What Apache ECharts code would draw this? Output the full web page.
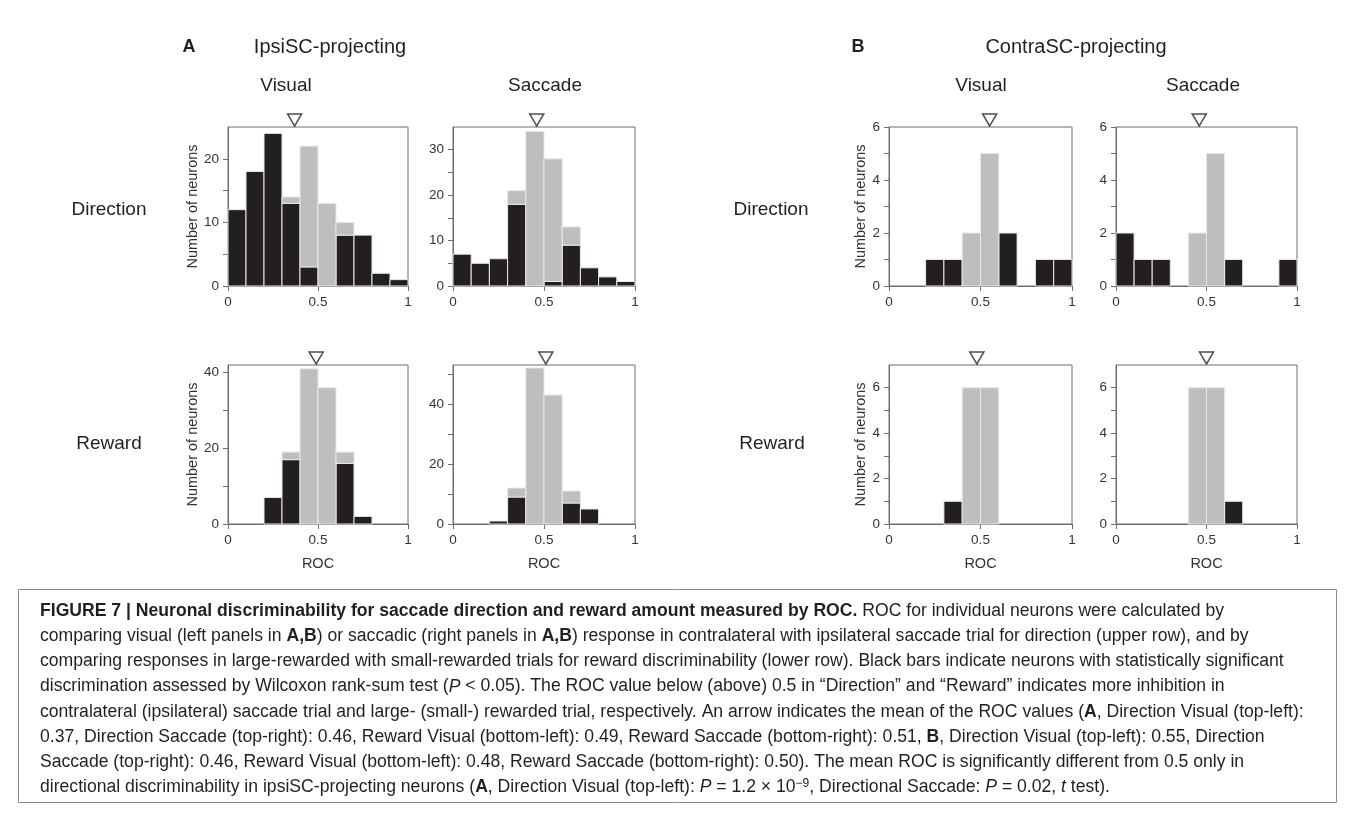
<!DOCTYPE html>
<html>
<head>
<meta charset="utf-8">
<script src="https://cdn.jsdelivr.net/npm/echarts@6/dist/echarts.min.js"></script>
<style>
html,body{margin:0;padding:0;background:#fff;}
#chart{width:1354px;height:819px;}
</style>
</head>
<body>
<div id="chart"></div>
<script>
// ---- DATA ----
const binEdges = [0, 0.1, 0.2, 0.3, 0.4, 0.5, 0.6, 0.7, 0.8, 0.9, 1.0];
const xTickValues = [0, 0.5, 1];

// IpsiSC-projecting (A)
const ipsiDirVisualSig    = [12, 18, 24, 13, 3, 0, 8, 8, 2, 1];
const ipsiDirVisualNon    = [0, 0, 0, 1, 19, 13, 2, 0, 0, 0];
const ipsiDirSaccadeSig   = [7, 5, 6, 18, 0, 1, 9, 4, 2, 1];
const ipsiDirSaccadeNon   = [0, 0, 0, 3, 34, 27, 4, 0, 0, 0];
const ipsiRewVisualSig    = [0, 0, 7, 17, 0, 0, 16, 2, 0, 0];
const ipsiRewVisualNon    = [0, 0, 0, 2, 41, 36, 3, 0, 0, 0];
const ipsiRewSaccadeSig   = [0, 0, 1, 9, 0, 0, 7, 5, 0, 0];
const ipsiRewSaccadeNon   = [0, 0, 0, 3, 52, 43, 4, 0, 0, 0];
// ContraSC-projecting (B)
const contraDirVisualSig  = [0, 0, 1, 1, 0, 0, 2, 0, 1, 1];
const contraDirVisualNon  = [0, 0, 0, 0, 2, 5, 0, 0, 0, 0];
const contraDirSaccadeSig = [2, 1, 1, 0, 0, 0, 1, 0, 0, 1];
const contraDirSaccadeNon = [0, 0, 0, 0, 2, 5, 0, 0, 0, 0];
const contraRewVisualSig  = [0, 0, 0, 1, 0, 0, 0, 0, 0, 0];
const contraRewVisualNon  = [0, 0, 0, 0, 6, 6, 0, 0, 0, 0];
const contraRewSaccadeSig = [0, 0, 0, 0, 0, 0, 1, 0, 0, 0];
const contraRewSaccadeNon = [0, 0, 0, 0, 6, 6, 0, 0, 0, 0];

// mean ROC (arrows): Direction Visual, Direction Saccade, Reward Visual, Reward Saccade
const ipsiMeans   = [0.37, 0.46, 0.49, 0.51];
const contraMeans = [0.55, 0.46, 0.48, 0.50];

// y tick labels
const yLabelsDirA1 = [0, 10, 20];
const yLabelsDirA2 = [0, 10, 20, 30];
const yLabelsRewA  = [0, 20, 40];
const yLabelsB     = [0, 2, 4, 6];

// ---- LAYOUT ----
const colLeft  = [228, 453, 889, 1116];
const colWidth = [180, 182, 183, 181];
const rowTop   = [127, 365];
const plotH    = 159;

const BLACK = '#231f20', GRAY = '#bcbec0', AXIS = '#6d6e71', TXT = '#333';

function range(a, b, s){ const r=[]; for(let v=a; v<=b+1e-9; v+=s) r.push(+v.toFixed(6)); return r; }

const panels = [
  {col:0,row:0,sig:ipsiDirVisualSig,non:ipsiDirVisualNon,mean:ipsiMeans[0],ymax:25,labels:yLabelsDirA1,ticks:range(0,20,5),yname:true},
  {col:1,row:0,sig:ipsiDirSaccadeSig,non:ipsiDirSaccadeNon,mean:ipsiMeans[1],ymax:35,labels:yLabelsDirA2,ticks:range(0,30,5),yname:false},
  {col:0,row:1,sig:ipsiRewVisualSig,non:ipsiRewVisualNon,mean:ipsiMeans[2],ymax:42,labels:yLabelsRewA,ticks:range(0,40,10),yname:true},
  {col:1,row:1,sig:ipsiRewSaccadeSig,non:ipsiRewSaccadeNon,mean:ipsiMeans[3],ymax:53,labels:yLabelsRewA,ticks:range(0,50,10),yname:false},
  {col:2,row:0,sig:contraDirVisualSig,non:contraDirVisualNon,mean:contraMeans[0],ymax:6,labels:yLabelsB,ticks:range(0,6,1),yname:true},
  {col:3,row:0,sig:contraDirSaccadeSig,non:contraDirSaccadeNon,mean:contraMeans[1],ymax:6,labels:yLabelsB,ticks:range(0,6,1),yname:false},
  {col:2,row:1,sig:contraRewVisualSig,non:contraRewVisualNon,mean:contraMeans[2],ymax:7,labels:yLabelsB,ticks:range(0,6,1),yname:true},
  {col:3,row:1,sig:contraRewSaccadeSig,non:contraRewSaccadeNon,mean:contraMeans[3],ymax:7,labels:yLabelsB,ticks:range(0,6,1),yname:false}
];

function rectRender(color){
  return function(params, api){
    const p0 = api.coord([api.value(0), api.value(2)]);
    const p1 = api.coord([api.value(1), api.value(3)]);
    return {type:'rect', shape:{x:p0[0], y:p1[1], width:p1[0]-p0[0], height:p0[1]-p1[1]},
      style:{fill:color, stroke:'#e8e8e8', lineWidth:1}};
  };
}

const grids=[], xAxes=[], yAxes=[], series=[];
panels.forEach((p,i)=>{
  grids.push({left:colLeft[p.col], top:rowTop[p.row], width:colWidth[p.col], height:plotH,
    show:true, borderColor:AXIS, borderWidth:1, backgroundColor:'transparent'});
  xAxes.push({type:'value', gridIndex:i, min:0, max:1, interval:0.5,
    axisLine:{show:true, onZero:false, lineStyle:{color:AXIS, width:1}},
    axisTick:{show:true, length:5, lineStyle:{color:AXIS}, customValues:xTickValues},
    axisLabel:{fontSize:13.5, color:TXT, margin:9, fontFamily:'Liberation Sans', customValues:xTickValues},
    splitLine:{show:false},
    name: p.row===1 ? 'ROC' : '', nameLocation:'middle', nameGap:32,
    nameTextStyle:{fontSize:14.5, color:TXT, fontFamily:'Liberation Sans'}});
  yAxes.push({type:'value', gridIndex:i, min:0, max:p.ymax,
    axisLine:{show:true, onZero:false, lineStyle:{color:AXIS, width:1}},
    axisTick:{show:true, length:5, lineStyle:{color:AXIS}, customValues:p.ticks},
    axisLabel:{fontSize:13.5, color:TXT, margin:9, fontFamily:'Liberation Sans', customValues:p.labels},
    splitLine:{show:false},
    name: p.yname ? 'Number of neurons' : '', nameLocation:'middle', nameGap:14,
    nameTextStyle:{fontSize:14.5, color:TXT, fontFamily:'Liberation Sans'}});
  const sigItems=[], nonItems=[];
  for(let k=0;k<binEdges.length-1;k++){
    if(p.sig[k]>0) sigItems.push([binEdges[k], binEdges[k+1], 0, p.sig[k]]);
    if(p.non[k]>0) nonItems.push([binEdges[k], binEdges[k+1], p.sig[k], p.sig[k]+p.non[k]]);
  }
  series.push({type:'custom', xAxisIndex:i, yAxisIndex:i, renderItem:rectRender(BLACK), data:sigItems, encode:{x:[0,1], y:[2,3]}, silent:true, z:2});
  series.push({type:'custom', xAxisIndex:i, yAxisIndex:i, renderItem:rectRender(GRAY), data:nonItems, encode:{x:[0,1], y:[2,3]}, silent:true, z:2});
  series.push({type:'scatter', xAxisIndex:i, yAxisIndex:i, data:[[p.mean, p.ymax]], clip:false,
    symbol:'path://M0,0 L12,0 L6,10 Z', symbolSize:[14,12], symbolOffset:[0,-7],
    itemStyle:{color:'#fff', borderColor:BLACK, borderWidth:1.5}, silent:true, z:5});
});

// ---- TEXT ----
const FONT = 'Liberation Sans';
function txt(x, y, text, size, bold){
  return {type:'text', x:x, y:y, silent:true,
    style:{text:text, fontSize:size, fontWeight:bold?'bold':'normal', fontFamily:FONT, fill:'#231f20', textAlign:'center', textVerticalAlign:'middle'}};
}
const graphics = [
  txt(189, 47, 'A', 18, true),
  txt(330, 47, 'IpsiSC-projecting', 20),
  txt(858, 47, 'B', 18, true),
  txt(1076, 47, 'ContraSC-projecting', 20),
  txt(286, 86, 'Visual', 19),
  txt(545, 86, 'Saccade', 19),
  txt(981, 86, 'Visual', 19),
  txt(1203, 86, 'Saccade', 19),
  txt(109, 210, 'Direction', 19),
  txt(109, 444, 'Reward', 19),
  txt(771, 210, 'Direction', 19),
  txt(772, 444, 'Reward', 19),
  {type:'rect', shape:{x:18.5, y:589.5, width:1318, height:213}, style:{fill:'none', stroke:'#8a8a8a', lineWidth:1}, silent:true}
];

const captionLines = [
  '{b|FIGURE 7 | Neuronal discriminability for saccade direction and reward amount measured by ROC.}{r| ROC for individual neurons were calculated by}',
  '{r|comparing visual (left panels in }{b|A,B}{r|) or saccadic (right panels in }{b|A,B}{r|) response in contralateral with ipsilateral saccade trial for direction (upper row), and by}',
  '{r|comparing responses in large-rewarded with small-rewarded trials for reward discriminability (lower row). Black bars indicate neurons with statistically significant}',
  '{r|discrimination assessed by Wilcoxon rank-sum test (}{i|P}{r| < 0.05). The ROC value below (above) 0.5 in \u201cDirection\u201d and \u201cReward\u201d indicates more inhibition in}',
  '{r|contralateral (ipsilateral) saccade trial and large- (small-) rewarded trial, respectively. An arrow indicates the mean of the ROC values (}{b|A}{r|, Direction Visual (top-left):}',
  '{r|0.37, Direction Saccade (top-right): 0.46, Reward Visual (bottom-left): 0.49, Reward Saccade (bottom-right): 0.51, }{b|B}{r|, Direction Visual (top-left): 0.55, Direction}',
  '{r|Saccade (top-right): 0.46, Reward Visual (bottom-left): 0.48, Reward Saccade (bottom-right): 0.50). The mean ROC is significantly different from 0.5 only in}',
  '{r|directional discriminability in ipsiSC-projecting neurons (}{b|A}{r|, Direction Visual (top-left): }{i|P}{r| = 1.2 \u00d7 10}{sup|\u22129}{r|, Directional Saccade: }{i|P}{r| = 0.02, }{i|t}{r| test).}'
];
const CAP = 17.6;
const rich = {
  r:{fontSize:CAP, fontFamily:FONT, fill:'#231f20', lineHeight:20},
  b:{fontSize:CAP, fontFamily:FONT, fontWeight:'bold', fill:'#231f20', lineHeight:20},
  i:{fontSize:CAP, fontFamily:FONT, fontStyle:'italic', fill:'#231f20', lineHeight:20},
  sup:{fontSize:12, fontFamily:FONT, fill:'#231f20', verticalAlign:'top', lineHeight:14}
};
captionLines.forEach((line, k)=>{
  graphics.push({type:'text', x:40, y:611 + k*25.2, silent:true,
    style:{text:line, rich:rich, textAlign:'left', textVerticalAlign:'middle', fontFamily:FONT, fontSize:CAP, fill:'#231f20'}});
});

const chart = echarts.init(document.getElementById('chart'), null, {renderer:'canvas'});
chart.setOption({
  animation:false,
  backgroundColor:'#fff',
  grid:grids, xAxis:xAxes, yAxis:yAxes, series:series,
  graphic:graphics
});
</script>
</body>
</html>
